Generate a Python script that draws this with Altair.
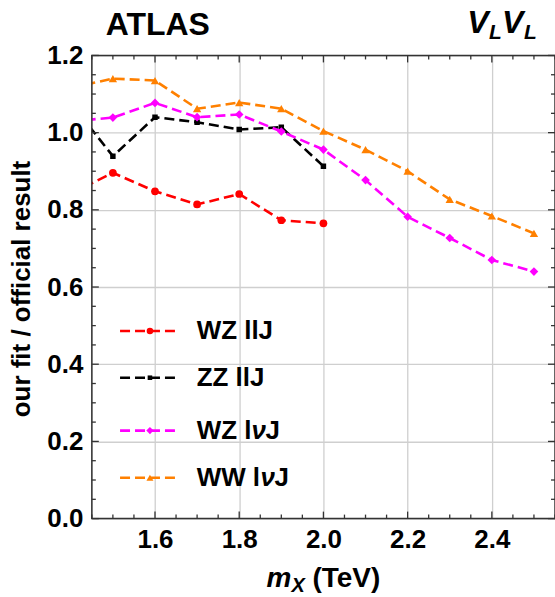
import altair as alt
import pandas as pd

FONT = "Liberation Sans"

series = ["WZ llJ", "ZZ llJ", "WZ lνJ", "WW lνJ"]
colors = ["#FF0000", "#000000", "#FF00FF", "#FF8000"]
shapes = ["circle", "square", "diamond", "triangle-up"]
sizes = [60, 30, 75, 70]

mx_wz_llj = [1.4, 1.5, 1.6, 1.7, 1.8, 1.9, 2.0]
r_wz_llj = [0.842, 0.896, 0.848, 0.814, 0.841, 0.773, 0.765]

mx_zz_llj = [1.4, 1.5, 1.6, 1.7, 1.8, 1.9, 2.0]
r_zz_llj = [1.077, 0.939, 1.040, 1.027, 1.008, 1.014, 0.913]

mx_wz_lvj = [1.4, 1.5, 1.6, 1.7, 1.8, 1.9, 2.0, 2.1, 2.2, 2.3, 2.4, 2.5]
r_wz_lvj = [1.029, 1.039, 1.077, 1.040, 1.047, 1.003, 0.956, 0.877, 0.782, 0.727, 0.670, 0.640]

mx_ww_lvj = [1.4, 1.5, 1.6, 1.7, 1.8, 1.9, 2.0, 2.1, 2.2, 2.3, 2.4, 2.5]
r_ww_lvj = [1.116, 1.140, 1.135, 1.062, 1.078, 1.062, 1.004, 0.956, 0.900, 0.827, 0.784, 0.739]

x_major = [1.6, 1.8, 2.0, 2.2, 2.4]
x_minor = [1.45, 1.5, 1.55, 1.65, 1.7, 1.75, 1.85, 1.9, 1.95, 2.05, 2.1, 2.15,
           2.25, 2.3, 2.35, 2.45, 2.5, 2.55]
y_major = [0.0, 0.2, 0.4, 0.6, 0.8, 1.0, 1.2]
y_minor = [0.05, 0.1, 0.15, 0.25, 0.3, 0.35, 0.45, 0.5, 0.55, 0.65, 0.7, 0.75,
           0.85, 0.9, 0.95, 1.05, 1.1, 1.15]

# legend label pieces (plain / italic nu / plain)
legend_pre = ["WZ llJ", "ZZ llJ", "WZ l", "WW l"]
legend_nu = ["", "", "ν", "ν"]
legend_post = ["", "", "J", "J"]
legend_nu_dx = [0, 0, 55, 64]
legend_post_dx = [0, 0, 69, 78]

legend_y = [0.486, 0.365, 0.228, 0.106]
legend_x0, legend_x1, legend_xm, legend_xt = 1.517, 1.657, 1.588, 1.699

W = H = 464
xs = alt.Scale(domain=[1.45, 2.55], nice=False, zero=False)
ys = alt.Scale(domain=[0.0, 1.2], nice=False, zero=False)

all_x = [mx_wz_llj, mx_zz_llj, mx_wz_lvj, mx_ww_lvj]
all_y = [r_wz_llj, r_zz_llj, r_wz_lvj, r_ww_lvj]

layers = []

base_df = pd.DataFrame({"x": [1.6], "y": [0.0]})
grid = alt.Chart(base_df).mark_point(opacity=0).encode(
    x=alt.X("x:Q", scale=xs, axis=alt.Axis(
        values=x_major, format=".1f", ticks=False, domain=False, grid=True,
        gridColor="#CFCFCF", gridWidth=1.3, labelFont=FONT, labelFontSize=26,
        labelFontWeight="bold", labelColor="#000", labelPadding=8, title=None)),
    y=alt.Y("y:Q", scale=ys, axis=alt.Axis(
        values=y_major, format=".1f", ticks=False, domain=False, grid=True,
        gridColor="#CFCFCF", gridWidth=1.3, labelFont=FONT, labelFontSize=26,
        labelFontWeight="bold", labelColor="#000", labelPadding=9, title=None)),
)
layers.append(grid)

for s, c, sh, sz, xv, yv in zip(series, colors, shapes, sizes, all_x, all_y):
    df = pd.DataFrame({"x": xv, "y": yv, "s": s})
    line = alt.Chart(df).mark_line(color=c, strokeWidth=2.6, strokeDash=[10, 5],
                                   clip=True).encode(
        x=alt.X("x:Q", scale=xs), y=alt.Y("y:Q", scale=ys))
    pts = alt.Chart(df).mark_point(color=c, fill=c, filled=True, opacity=1,
                                   shape=sh, size=sz, clip=True).encode(
        x=alt.X("x:Q", scale=xs), y=alt.Y("y:Q", scale=ys))
    layers += [line, pts]

frame = alt.Chart(base_df).mark_rect(fill=None, stroke="#333333", strokeWidth=1.5).encode(
    x=alt.value(0), x2=alt.value(W), y=alt.value(0), y2=alt.value(H))
layers.append(frame)

def xticks(vals, length):
    d = pd.DataFrame({"v": vals})
    b = alt.Chart(d).mark_rule(color="#333333", strokeWidth=1.3).encode(
        x=alt.X("v:Q", scale=xs), y=alt.value(H), y2=alt.value(H - length))
    t = alt.Chart(d).mark_rule(color="#333333", strokeWidth=1.3).encode(
        x=alt.X("v:Q", scale=xs), y=alt.value(0), y2=alt.value(length))
    return [b, t]

def yticks(vals, length):
    d = pd.DataFrame({"v": vals})
    l = alt.Chart(d).mark_rule(color="#333333", strokeWidth=1.3).encode(
        y=alt.Y("v:Q", scale=ys), x=alt.value(0), x2=alt.value(length))
    r = alt.Chart(d).mark_rule(color="#333333", strokeWidth=1.3).encode(
        y=alt.Y("v:Q", scale=ys), x=alt.value(W), x2=alt.value(W - length))
    return [l, r]

layers += xticks(x_major, 7) + xticks(x_minor, 4) + yticks(y_major, 7) + yticks(y_minor, 4)

for i, (s, c, sh, sz, ly) in enumerate(zip(series, colors, shapes, sizes, legend_y)):
    ld = pd.DataFrame({"x0": [legend_x0], "x1": [legend_x1], "xm": [legend_xm],
                       "xt": [legend_xt], "y": [ly], "pre": [legend_pre[i]],
                       "nu": [legend_nu[i]], "post": [legend_post[i]]})
    layers.append(alt.Chart(ld).mark_rule(color=c, strokeWidth=2.6, strokeDash=[10, 5]).encode(
        x=alt.X("x0:Q", scale=xs), x2="x1:Q", y=alt.Y("y:Q", scale=ys)))
    layers.append(alt.Chart(ld).mark_point(color=c, fill=c, filled=True, opacity=1,
                                           shape=sh, size=sz * 0.7).encode(
        x=alt.X("xm:Q", scale=xs), y=alt.Y("y:Q", scale=ys)))
    layers.append(alt.Chart(ld).mark_text(font=FONT, fontSize=26, fontWeight="bold",
                                          align="left", baseline="middle", color="#000").encode(
        x=alt.X("xt:Q", scale=xs), y=alt.Y("y:Q", scale=ys), text="pre:N"))
    if legend_nu[i]:
        layers.append(alt.Chart(ld).mark_text(font=FONT, fontSize=26, fontWeight="bold",
                                              fontStyle="italic", dx=legend_nu_dx[i],
                                              align="left", baseline="middle", color="#000").encode(
            x=alt.X("xt:Q", scale=xs), y=alt.Y("y:Q", scale=ys), text="nu:N"))
        layers.append(alt.Chart(ld).mark_text(font=FONT, fontSize=26, fontWeight="bold",
                                              dx=legend_post_dx[i],
                                              align="left", baseline="middle", color="#000").encode(
            x=alt.X("xt:Q", scale=xs), y=alt.Y("y:Q", scale=ys), text="post:N"))

def txt(t, x, y, size, style="normal", weight="bold", angle=0, align="left", baseline="alphabetic"):
    d = pd.DataFrame({"t": [t]})
    kw = dict(font=FONT, fontSize=size, fontWeight=weight, fontStyle=style,
              align=align, baseline=baseline, color="#000")
    if angle:
        kw["angle"] = angle
    return alt.Chart(d).mark_text(**kw).encode(
        x=alt.value(x), y=alt.value(y), text="t:N")

layers += [
    txt("ATLAS", 14, -20, 32),
    txt("V", 376, -22, 32, style="italic"),
    txt("L", 398, -16, 21, style="italic"),
    txt("V", 411, -22, 32, style="italic"),
    txt("L", 433, -16, 21, style="italic"),
    txt("m", 175, 533, 28, style="italic"),
    txt("X", 200, 538, 20, style="italic"),
    txt("(TeV)", 221, 533, 28),
    txt("our fit / official result", -70, 234, 26, angle=270, align="center", baseline="middle"),
]

chart = alt.layer(*layers).properties(
    width=W, height=H,
    autosize=alt.AutoSizeParams(type="none"),
    padding={"left": 92, "top": 55, "right": 0, "bottom": 78},
).configure_view(stroke=None).configure(background="white")

chart.save("out.html", embed_options={"renderer": "svg", "actions": False})
